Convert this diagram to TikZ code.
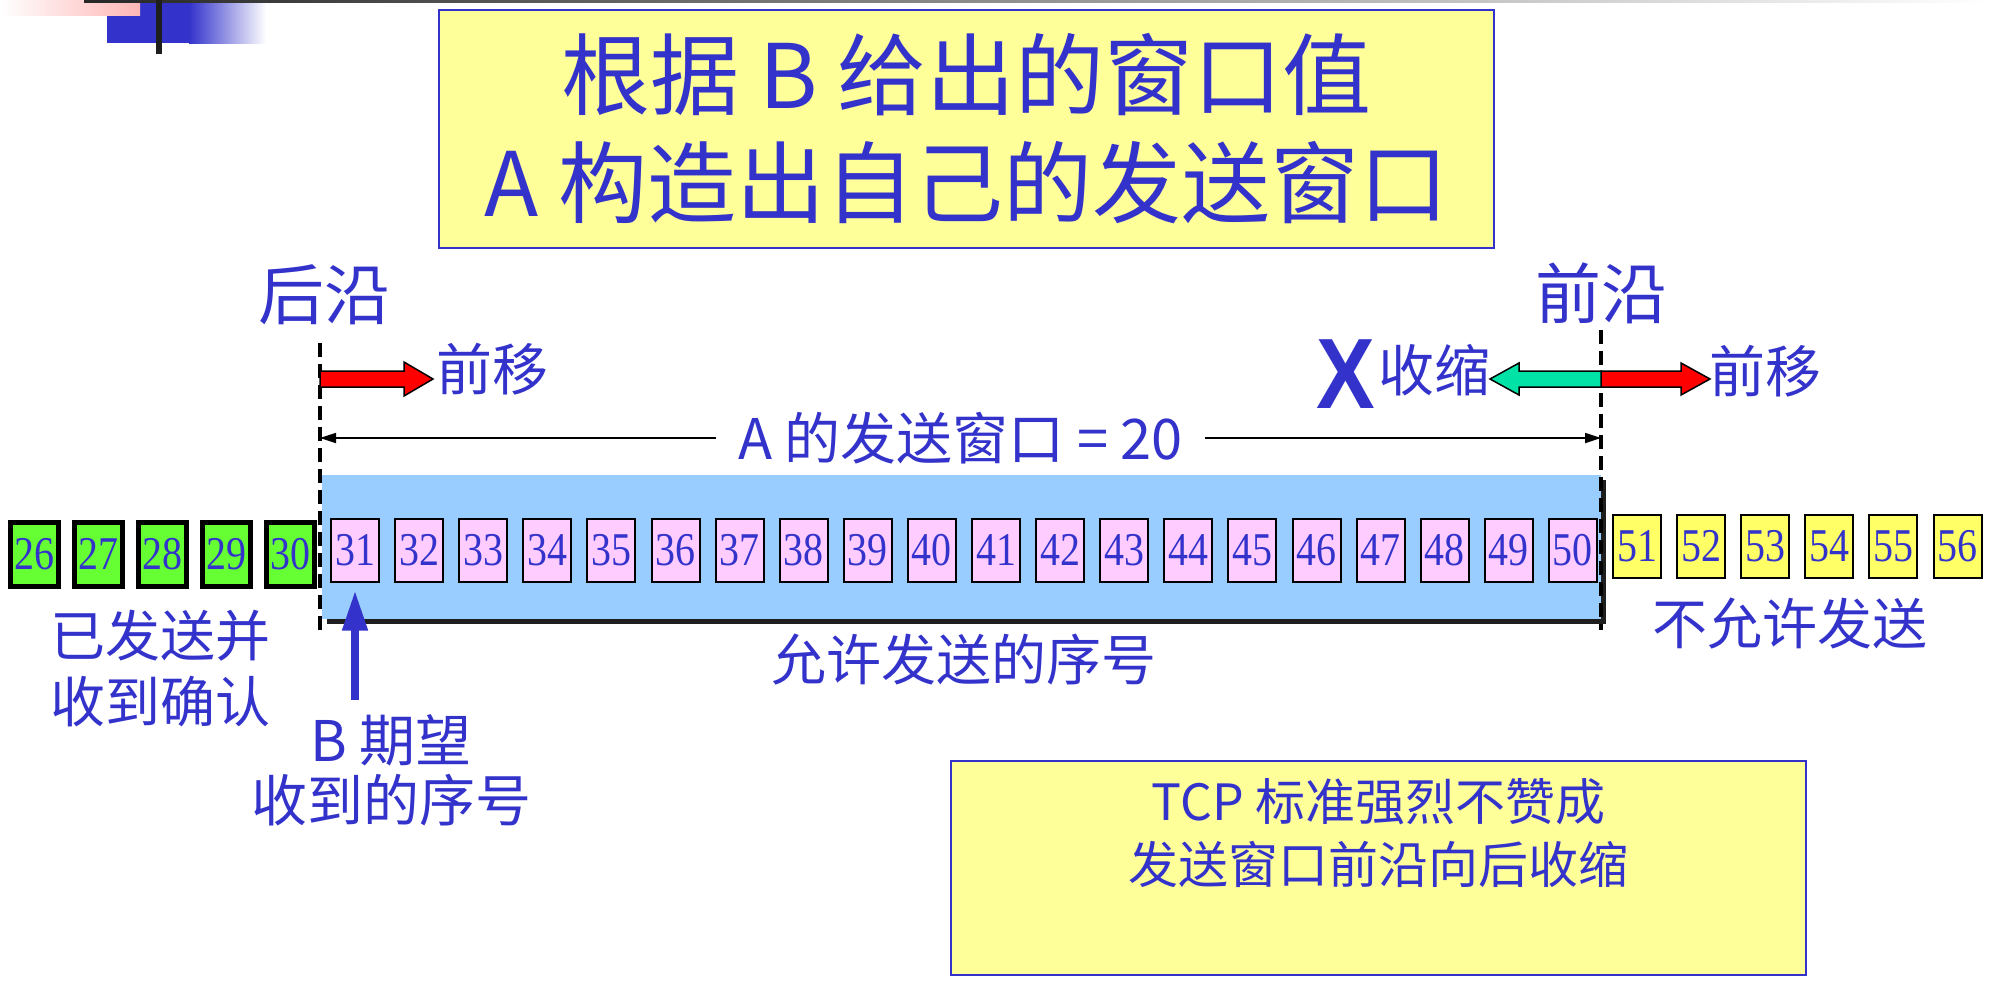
\documentclass[tikz,border=0pt]{standalone}
\usepackage{fontspec}
\setmainfont{Noto Sans CJK SC}
\newfontfamily\numfont{Liberation Serif}
\newfontfamily\markfont{Liberation Sans}
\usepackage{tikz}
\usetikzlibrary{arrows.meta, positioning, calc, shadows}
\usepackage{xcolor}
\definecolor{textBlue}{RGB}{51, 51, 204}
\definecolor{titleYellow}{RGB}{255, 255, 153}
\definecolor{windowBlue}{RGB}{153, 204, 255}
\definecolor{ackGreen}{RGB}{102, 255, 51}
\definecolor{sendPink}{RGB}{255, 204, 255}
\definecolor{waitYellow}{RGB}{255, 255, 102}
\definecolor{shrinkGreen}{RGB}{0, 226, 166}
\definecolor{shadowGray}{RGB}{30, 30, 30}
\definecolor{decoPink}{RGB}{255, 182, 182}
\newcommand{\fsz}[2]{\fontsize{#1}{#2}\selectfont}
\newcommand{\seqno}[1]{\scalebox{0.85}[1]{#1}}

\begin{document}
\begin{tikzpicture}[
    x=1pt, y=-1pt,
    % Text style
    txt/.style={
        text=textBlue,
        inner sep=0pt,
        align=center
    },
    % Sequence number boxes
    seqbox/.style={
        rectangle,
        draw=black,
        fill=#1,
        line width=2pt,
        minimum width=48pt,
        minimum height=63pt,
        inner sep=0pt,
        text=textBlue,
        font=\numfont\fsz{47}{47}
    },
    ackbox/.style={
        seqbox=ackGreen,
        line width=5pt,
        minimum height=64pt
    },
    % Yellow note boxes
    notebox/.style={
        rectangle,
        draw=textBlue,
        fill=titleYellow,
        line width=2pt,
        inner sep=0pt
    },
    % Block arrows
    blockarrow/.style={
        draw=black,
        fill=#1,
        line width=1.5pt,
        line join=miter
    },
    % Window edges and span
    edge/.style={
        draw=black,
        line width=3.5pt,
        dash pattern=on 14pt off 7pt
    },
    span/.style={
        {Triangle[length=16pt, width=10pt]}-{Triangle[length=16pt, width=10pt]},
        line width=1.7pt
    },
    pointer/.style={
        -{Triangle[length=40pt, width=24pt]},
        line width=7.5pt,
        draw=textBlue
    }
]
\useasboundingbox (0,0) rectangle (1989,988);

% ============================================
% SLIDE DECORATION
% ============================================
\fill[textBlue] (107,0) rectangle (190,43);
\shade[left color=textBlue, right color=white] (189,0) rectangle (266,43);
\shade[left color=white, right color=decoPink] (0,0) rectangle (140,15);
\shade[left color=black!85, right color=white] (84,0) rectangle (1989,2.5);
\fill[shadowGray] (156,0) rectangle (162,54);

% ============================================
% TITLE
% ============================================
\node[notebox, minimum width=1055pt, minimum height=238pt, txt,
      font=\fsz{89}{108}] (title) at (966.5,129) {
    根据 B 给出的窗口值\\
    A 构造出自己的发送窗口
};

% ============================================
% SEND WINDOW
% ============================================
\node[rectangle, fill=windowBlue, minimum width=1279pt, minimum height=144pt,
      inner sep=0pt,
      drop shadow={shadow xshift=5pt, shadow yshift=-5pt, fill=shadowGray, opacity=1}]
      (window) at (961.5,547) {};

% Sequence numbers
\foreach \n in {26,...,30}
    \node[ackbox] (s\n) at ({355+(\n-31)*64.1}, 554) {\seqno{\n}};
\foreach \n in {31,...,50}
    \node[seqbox=sendPink] (w\n) at ({355+(\n-31)*64.1}, 550) {\seqno{\n}};
\foreach \n in {51,...,56}
    \node[seqbox=waitYellow] (u\n) at ({355+(\n-31)*64.1}, 546) {\seqno{\n}};

% Rear and front edges
\coordinate (rearTop) at (320,343);
\coordinate (rearBot) at (320,633);
\coordinate (frontTop) at (1601,330);
\coordinate (frontBot) at (1601,630);
\draw[edge] (rearTop) -- (rearBot);
\draw[edge] (frontTop) -- (frontBot);

\node[txt, font=\fsz{66}{66}] (rearLbl) at (324,295) {后沿};
\node[txt, font=\fsz{66}{66}] (frontLbl) at (1601,293) {前沿};

% ============================================
% EDGE MOVES
% ============================================
\coordinate (rearMid) at (320,379);
\coordinate (frontMid) at (1601,379);

% rear edge -> forward
\draw[blockarrow=red] (rearMid) ++(0,-8) -- ++(84,0) -- ++(0,-9) -- ++(29,17)
    -- ++(-29,17) -- ++(0,-9) -- ++(-84,0) -- cycle;
\node[txt, font=\fsz{56}{56}] (rearFwd) at (492,369) {前移};

% front edge -> forward
\draw[blockarrow=red] (frontMid) ++(0,-8) -- ++(80,0) -- ++(0,-8) -- ++(29,16)
    -- ++(-29,16) -- ++(0,-8) -- ++(-80,0) -- cycle;
\node[txt, font=\fsz{56}{56}] (frontFwd) at (1765,371) {前移};

% front edge -> backward (shrink)
\draw[blockarrow=shrinkGreen] (frontMid) ++(0,-8) -- ++(-82,0) -- ++(0,-8) -- ++(-29,16)
    -- ++(29,16) -- ++(0,-8) -- ++(82,0) -- cycle;
\node[txt, font=\fsz{56}{56}] (shrinkLbl) at (1434,370) {收缩};
\node[txt, font=\markfont\bfseries\fsz{100}{100}] (noMark) at (1346,374)
    {\scalebox{0.88}[1]{X}};

% Window size
\coordinate (spanL) at (320,438);
\coordinate (spanR) at (1601,438);
\draw[span] (spanL) -- (spanR)
    node[txt, midway, fill=white, inner xsep=22pt, font=\fsz{56}{56}] (sizeLbl)
    {A 的发送窗口 = 20};

% ============================================
% ANNOTATIONS
% ============================================
\node[txt, font=\fsz{55}{66}] (ackedLbl) at (160,669) {已发送并\\收到确认};
\node[txt, font=\fsz{55}{55}] (allowLbl) at (964,660) {允许发送的序号};
\node[txt, font=\fsz{55}{55}] (denyLbl) at (1790,624) {不允许发送};
\node[txt, font=\fsz{56}{60}] (expLbl) at (391,770) {B 期望\\收到的序号};

% B expects -> 31
\draw[pointer] ($(expLbl.north -| w31.south)+(0,-14)$) -- ($(w31.south)+(0,8)$);

% Note box
\node[notebox, minimum width=855pt, minimum height=214pt] (note) at (1378.5,868) {};
\node[txt, font=\fsz{50}{63}, below=18pt of note.north] (noteTxt) {
    TCP 标准强烈不赞成\\
    发送窗口前沿向后收缩
};

\end{tikzpicture}
\end{document}
